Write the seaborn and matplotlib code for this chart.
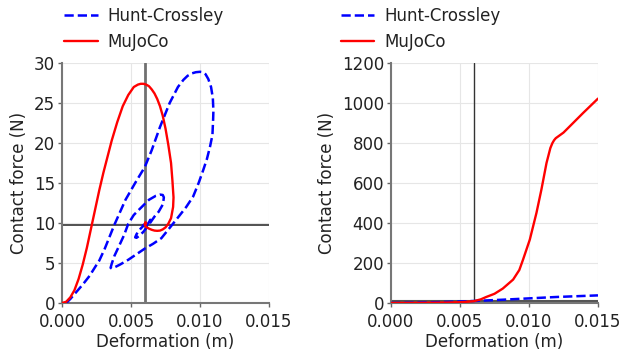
import numpy as np
import pandas as pd
import matplotlib
matplotlib.use("Agg")
import matplotlib.pyplot as plt
import seaborn as sns

# ---- Left panel: dynamic force–deformation trajectories ----
hc_left_d = [0.0003, 0.0006, 0.0010, 0.0015, 0.0020, 0.0024, 0.0027, 0.0031, 0.0038, 0.0046,
             0.0053, 0.0060, 0.0065, 0.0071, 0.0078, 0.0084, 0.0088, 0.0091, 0.0094, 0.0097,
             0.0100, 0.0102, 0.0104, 0.0106, 0.0108, 0.01093, 0.01097, 0.01095, 0.0109, 0.01072,
             0.0105, 0.01023, 0.0099, 0.0095, 0.0090, 0.0085, 0.0079, 0.0072, 0.0066, 0.0060,
             0.0054, 0.0048, 0.0042, 0.0038, 0.0036, 0.00352, 0.0036, 0.0038, 0.0041, 0.0045,
             0.0048, 0.0052, 0.0056, 0.0063, 0.0068, 0.0071, 0.0073, 0.00738, 0.00735, 0.0073,
             0.0070, 0.0067, 0.0063, 0.0059, 0.0056, 0.0054, 0.0053, 0.0054, 0.0057, 0.0061,
             0.0063, 0.0064, 0.0063, 0.0061, 0.0059, 0.00585, 0.0059, 0.0060]
hc_left_f = [0.0, 0.5, 1.3, 2.3, 3.4, 4.5, 5.3, 6.8, 9.8, 12.9,
             15.0, 17.0, 19.1, 22.0, 25.0, 27.0, 27.9, 28.4, 28.7, 28.85,
             28.9, 28.85, 28.6, 28.0, 27.0, 25.6, 24.0, 22.9, 21.0, 19.5,
             18.0, 16.6, 15.0, 13.3, 12.0, 10.9, 9.6, 8.1, 7.4, 6.8,
             6.1, 5.4, 4.8, 4.45, 4.3, 4.4, 4.9, 5.9, 7.0, 8.5,
             9.9, 11.0, 11.7, 12.9, 13.4, 13.55, 13.5, 13.2, 12.8, 12.3,
             11.4, 10.8, 9.8, 8.9, 8.4, 8.15, 8.2, 8.6, 9.3, 10.0,
             10.3, 10.4, 10.1, 9.6, 9.45, 9.6, 9.75, 9.8]

mj_left_d = [0.0, 0.0003, 0.0006, 0.0009, 0.0012, 0.0015, 0.0018, 0.0021, 0.0024, 0.0027,
             0.0030, 0.0033, 0.0036, 0.0040, 0.0044, 0.0048, 0.0052, 0.0055, 0.0057, 0.0059,
             0.0061, 0.0063, 0.0065, 0.0067, 0.0069, 0.0071, 0.0073, 0.0075, 0.0077, 0.0079,
             0.0080, 0.00808, 0.00805, 0.0079, 0.0077, 0.0075, 0.0073, 0.0071, 0.0069, 0.0067,
             0.0065, 0.0063, 0.0061, 0.00603, 0.0060, 0.00605, 0.0061, 0.0060]
mj_left_f = [0.0, 0.15, 0.7, 1.6, 3.0, 4.8, 6.9, 9.3, 11.7, 14.1,
             16.3, 18.3, 20.3, 22.6, 24.6, 26.0, 27.0, 27.3, 27.4, 27.4,
             27.3, 27.1, 26.7, 26.2, 25.5, 24.6, 23.4, 21.8, 19.8, 17.5,
             15.3, 13.2, 12.0, 10.6, 9.9, 9.45, 9.2, 9.05, 9.02, 9.05,
             9.15, 9.3, 9.5, 9.65, 9.9, 10.1, 9.95, 9.8]

# ---- Right panel: quasi-static force vs deformation ----
hc_right_d = [0.0, 0.002, 0.004, 0.006, 0.008, 0.010, 0.012, 0.015]
hc_right_f = [0.0, 2.0, 5.0, 10.0, 16.0, 23.0, 30.0, 38.0]

mj_right_d = [0.0, 0.002, 0.004, 0.005, 0.0055, 0.006, 0.0065, 0.0069, 0.0075, 0.0081,
              0.00885, 0.0093, 0.00957, 0.01006, 0.01054, 0.0109, 0.01127, 0.01155, 0.0117, 0.01182,
              0.01194, 0.0125, 0.01295, 0.01392, 0.015]
mj_right_f = [0.0, 0.5, 2.0, 4.0, 6.0, 9.0, 18.0, 30.0, 46.0, 72.0,
              117.0, 165.0, 217.0, 317.0, 450.0, 567.0, 700.0, 775.0, 800.0, 814.0,
              824.0, 852.0, 883.0, 950.0, 1022.0]

x_ticks = [0.000, 0.005, 0.010, 0.015]
left_yticks = [0, 5, 10, 15, 20, 25, 30]
right_yticks = [0, 200, 400, 600, 800, 1000, 1200]
ref_deformation = 0.006
ref_force = 9.81

sns.set_theme(style="ticks")
plt.rcParams['font.family'] = ['DejaVu Sans']

fig = plt.figure(figsize=(6.24, 3.51), dpi=100)
axL = fig.add_axes([0.0994, 0.1368, 0.3317, 0.6837])
axR = fig.add_axes([0.6266, 0.1368, 0.3317, 0.6837])

def draw(ax, hd, hf, md, mf, vcol, vlw, hcol, hlw):
    ax.grid(True, color='#e6e6e6', lw=0.8)
    ax.set_axisbelow(True)
    ax.axvline(ref_deformation, color=vcol, lw=vlw, zorder=1.5)
    ax.axhline(ref_force, color=hcol, lw=hlw, zorder=1.5)
    sns.lineplot(x=hd, y=hf, ax=ax, sort=False, estimator=None, color='#0000ff',
                 lw=1.8, linestyle='--', label='Hunt-Crossley', zorder=3)
    sns.lineplot(x=md, y=mf, ax=ax, sort=False, estimator=None, color='#ff0000',
                 lw=1.7, label='MuJoCo', zorder=3)
    ax.set_xlim(0, 0.015)
    ax.set_xticks(x_ticks)
    ax.set_xticklabels([f"{t:.3f}" for t in x_ticks])
    ax.set_xlabel("Deformation (m)", fontsize=12, color='#222222', labelpad=1)
    ax.set_ylabel("Contact force (N)", fontsize=12, color='#222222', labelpad=4)
    ax.tick_params(labelsize=12, colors='#222222', length=3, width=1, color='#666666', pad=2)
    ax.tick_params(axis='x', pad=4.5)
    for s in ['top', 'right']:
        ax.spines[s].set_visible(False)
    for s in ['left', 'bottom']:
        ax.spines[s].set_color('#777777')
        ax.spines[s].set_linewidth(1.5)
    ax.get_legend().remove()

draw(axL, hc_left_d, hc_left_f, mj_left_d, mj_left_f, '#707070', 2.0, '#333333', 1.2)
axL.set_ylim(0, 30)
axL.set_yticks(left_yticks)

draw(axR, hc_right_d, hc_right_f, mj_right_d, mj_right_f, '#333333', 1.0, '#555555', 1.5)
axR.set_ylim(0, 1200)
axR.set_yticks(right_yticks)

for ax, xa in [(axL, 0.079), (axR, 0.522)]:
    h, l = ax.get_legend_handles_labels()
    fig.legend(h, l, loc='upper left', bbox_to_anchor=(xa, 1.022), frameon=False,
               fontsize=12, labelcolor='#222222', labelspacing=0.45, handletextpad=0.6)

fig.savefig("out.png", dpi=100)
